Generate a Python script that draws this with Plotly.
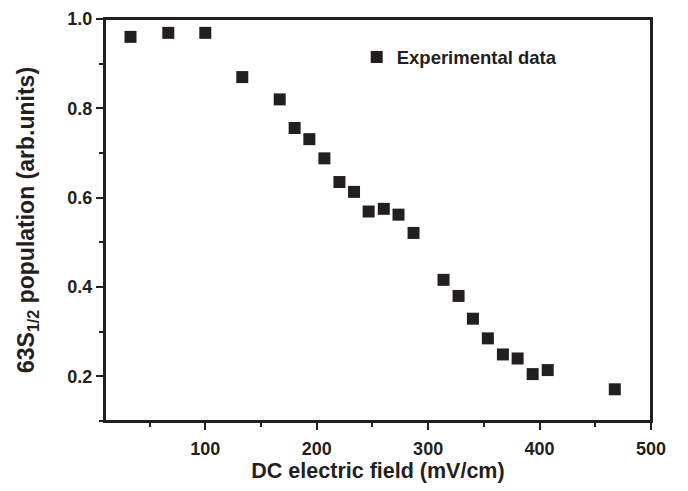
import plotly.graph_objects as go

field = [32.9, 66.8, 100.0, 133.2, 166.8, 180.2, 193.4, 206.9, 220.4, 233.5,
         246.6, 260.2, 273.4, 286.9, 313.8, 327.3, 340.2, 353.6, 367.1, 380.3,
         393.8, 407.3, 467.5]
population = [0.960, 0.969, 0.969, 0.870, 0.820, 0.756, 0.731, 0.688, 0.635, 0.613,
              0.569, 0.575, 0.562, 0.521, 0.416, 0.380, 0.329, 0.285, 0.249, 0.240,
              0.205, 0.214, 0.171]
series_name = "Experimental data"
x_title = "DC electric field (mV/cm)"
y_title = "63S<sub>1/2</sub> population (arb.units)"
x_range = [10, 500]
y_range = [0.1, 1.0]

FONT = "Liberation Sans, Arial, sans-serif"
INK = "#231f20"

fig = go.Figure()
fig.add_trace(go.Scatter(
    x=field, y=population, mode="markers", name=series_name,
    marker=dict(symbol="square", size=12, color=INK, line=dict(width=0)),
))

axis_common = dict(
    showline=True, mirror=True, linecolor=INK, linewidth=2,
    showgrid=False, zeroline=False,
    ticks="outside", ticklen=7, tickwidth=1.5, tickcolor=INK,
    tickfont=dict(family=FONT, size=18, color=INK, weight="bold"),
)

fig.update_layout(
    width=680, height=483,
    margin=dict(l=97, r=37, t=11, b=70, autoexpand=False),
    paper_bgcolor="white", plot_bgcolor="white",
    showlegend=True,
    legend=dict(x=0.461, y=0.904, xanchor="left", yanchor="middle",
                bgcolor="rgba(0,0,0,0)",
                font=dict(family=FONT, size=18.5, color=INK, weight="bold")),
    xaxis=dict(
        range=x_range, dtick=100, tick0=0, ticklabelstandoff=3,
        minor=dict(ticks="outside", dtick=50, tick0=0, ticklen=4, tickwidth=1.5, tickcolor=INK),
        title=dict(text=x_title, standoff=2,
                   font=dict(family=FONT, size=21.5, color=INK, weight="bold")),
        **axis_common,
    ),
    yaxis=dict(
        range=y_range, dtick=0.2, tick0=0,
        tickformat=".1f",
        minor=dict(ticks="outside", dtick=0.1, tick0=0, ticklen=4, tickwidth=1.5, tickcolor=INK),
        title=dict(text=y_title, standoff=26,
                   font=dict(family=FONT, size=23, color=INK, weight="bold")),
        **axis_common,
    ),
)
# plot frame (same as the mirrored axis lines)
fig.add_shape(type="rect", xref="paper", yref="paper", x0=0, y0=0, x1=1, y1=1,
              line=dict(color=INK, width=2), fillcolor="rgba(0,0,0,0)", layer="above")

fig.write_html("out.html")
